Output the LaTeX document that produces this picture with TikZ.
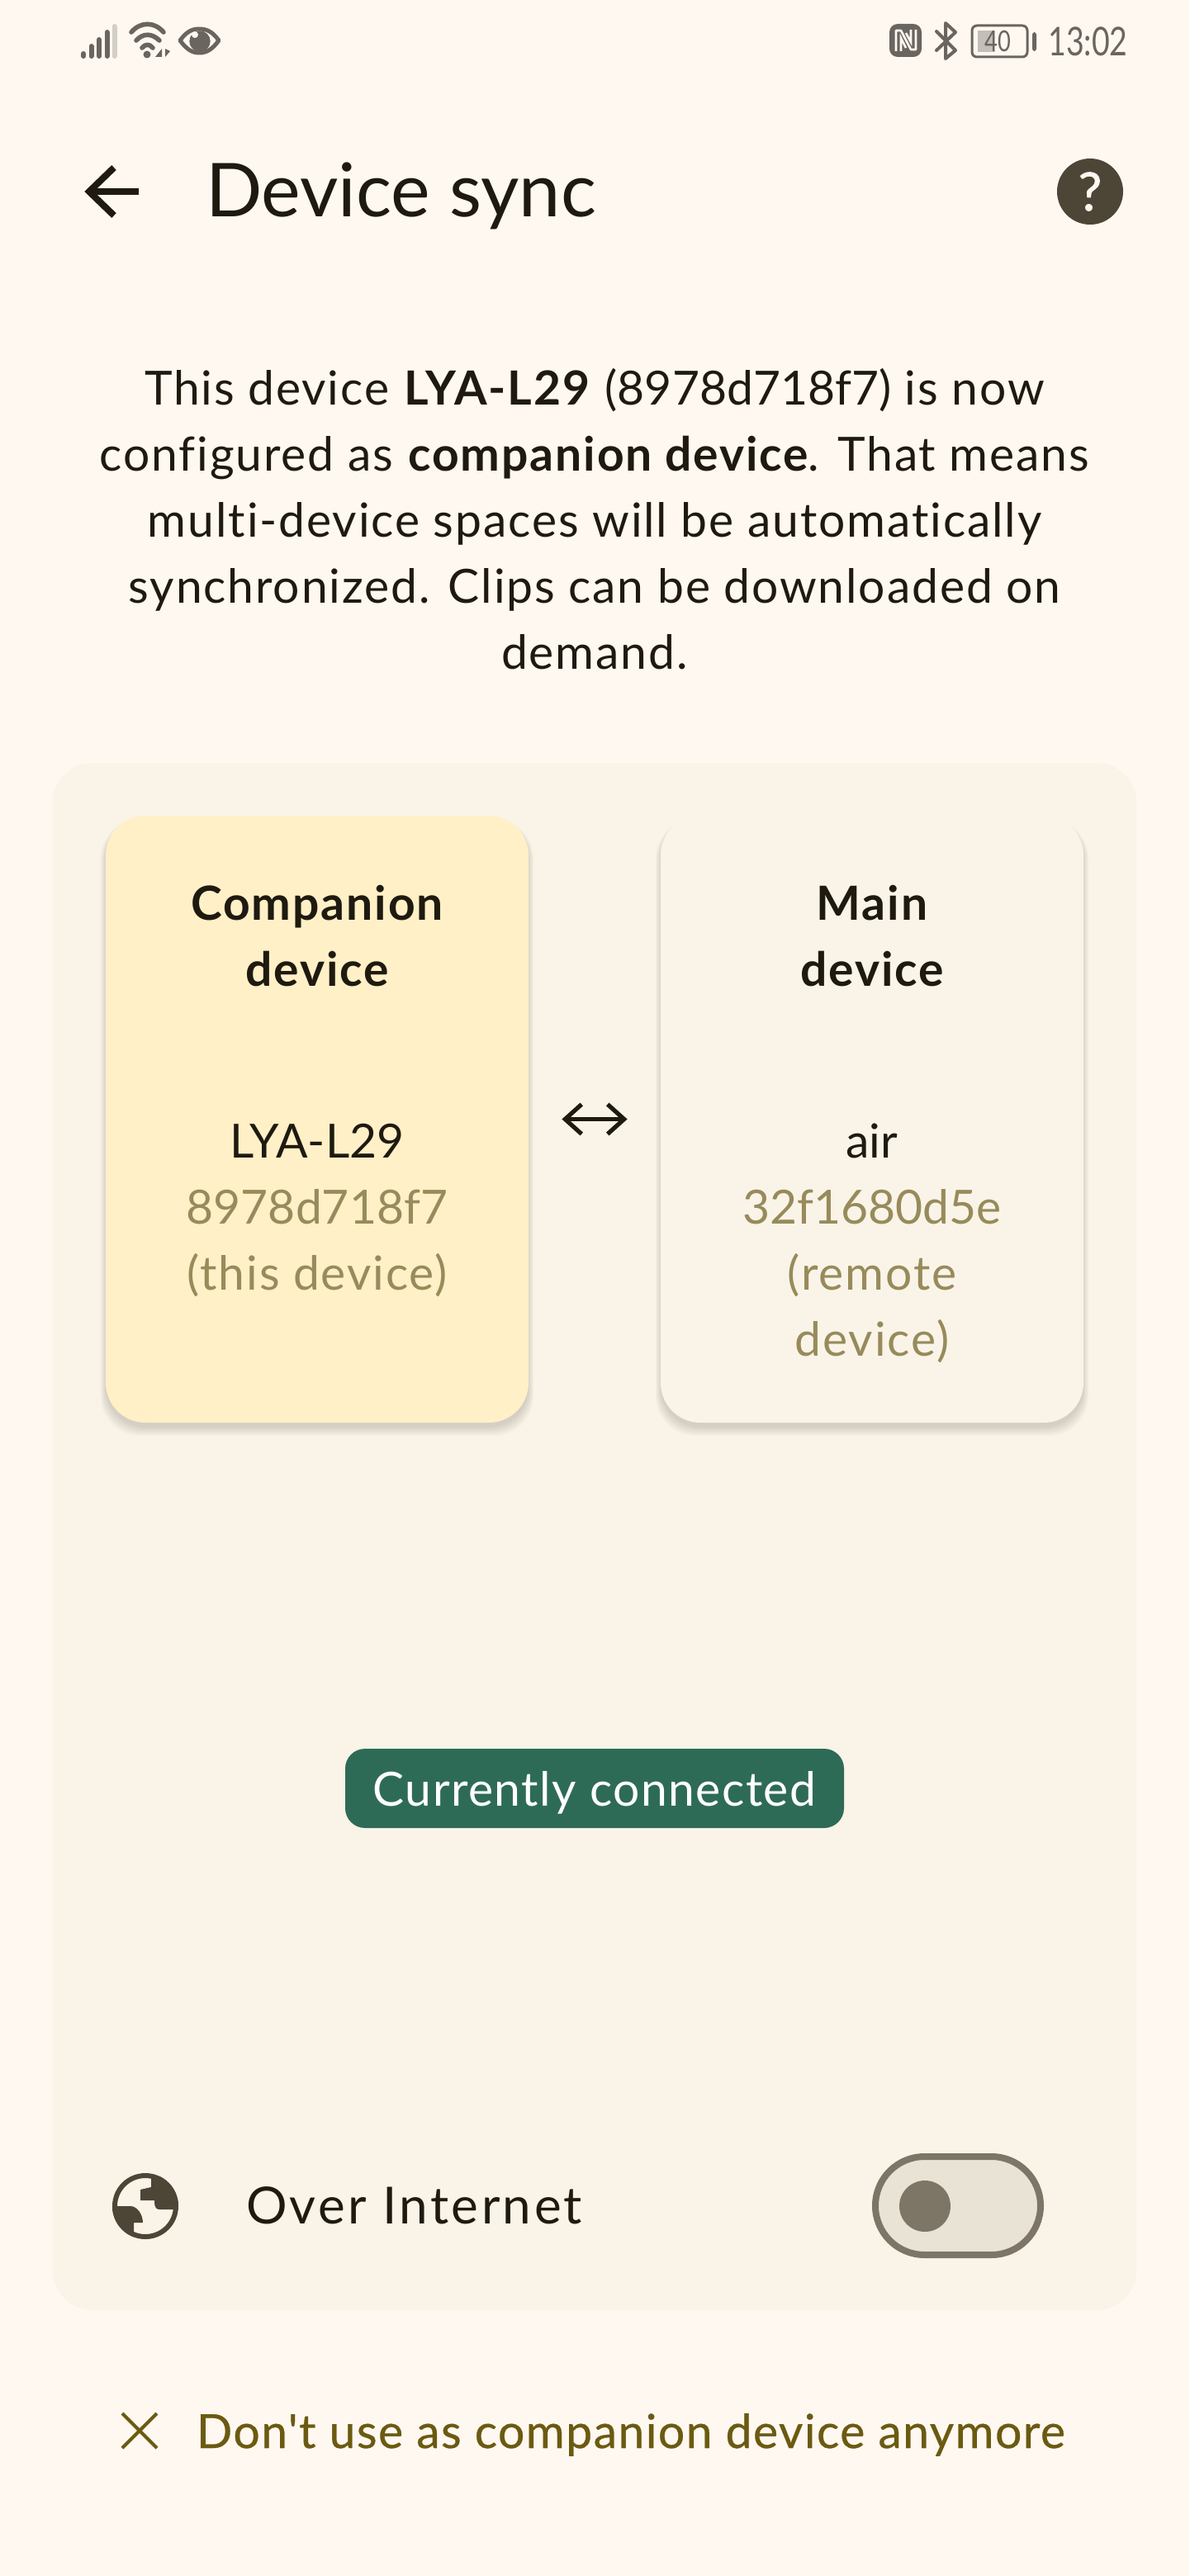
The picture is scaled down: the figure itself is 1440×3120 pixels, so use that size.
\documentclass[tikz,border=0pt]{standalone}
\usepackage{fontspec}
\setmainfont[LetterSpace=3.3,Ligatures=NoCommon]{Lato}
\newfontfamily\nols[Ligatures=NoCommon]{Lato}
\newfontfamily\wides[LetterSpace=5.5,Ligatures=NoCommon]{Lato}
\newfontfamily\pills[LetterSpace=2.6,Ligatures=NoCommon]{Lato}
\newfontfamily\medfont[FakeBold=0.5,LetterSpace=2.6,Ligatures=NoCommon]{Lato}
\newfontfamily\qfont[FakeBold=1.2]{Lato}
\newfontfamily\narrowfont[FakeStretch=0.78]{Lato}
\usetikzlibrary{arrows.meta}
\definecolor{bgc}{HTML}{FFF8F1}
\definecolor{panelc}{HTML}{FAF3E7}
\definecolor{cardy}{HTML}{FFF0C7}
\definecolor{cardw}{HTML}{FAF4E8}
\definecolor{ink}{HTML}{1F1A10}
\definecolor{muted}{HTML}{978B5B}
\definecolor{iconc}{HTML}{4D4536}
\definecolor{statusc}{HTML}{6B6560}
\definecolor{statusl}{HTML}{D2CEC8}
\definecolor{pillc}{HTML}{2E6B56}
\definecolor{togf}{HTML}{E9E3D6}
\definecolor{togs}{HTML}{7D7666}
\definecolor{linkc}{HTML}{6B5A10}
\tikzset{
  x=0.5pt,y=-0.5pt,
  txt/.style={inner sep=0pt,outer sep=0pt,anchor=base,text=ink,font=\fontsize{28.5}{28.5}\selectfont},
  txtl/.style={txt,anchor=base west},
  sub/.style={txt,text=muted},
  subn/.style={txt,text=muted,font=\nols\fontsize{28.5}{28.5}\selectfont},
  txtn/.style={txt,font=\nols\fontsize{28.5}{28.5}\selectfont},
  headb/.style={txt,font=\fontsize{28.5}{28.5}\selectfont\bfseries},
  card/.style={minimum width=256pt,minimum height=367.5pt,inner sep=0pt,rounded corners=24pt},
  statusline/.style={draw=statusc,line cap=round,line join=round,fill=none},
}
\newcommand{\shadowfor}[4]{%
  \foreach \g in {0,2,...,10}{%
    \fill[black,opacity=0.022,rounded corners=24pt] (#1-\g*0.6,#2+6-\g*0.2) rectangle (#3+\g*0.6,#4+6+\g);
  }}
\begin{document}
\begin{tikzpicture}
\useasboundingbox (0,0) rectangle (1440,3120);
\fill[bgc] (0,0) rectangle (1440,3120);

% status bar left
\foreach \bx/\by in {101/63,110.5/54,120/46,129.5/37}{
  \draw[statusline,line width=3pt] (\bx,\by+2) -- (\bx,68);
}
\draw[statusline,draw=statusl,line width=3pt] (138.5,32) -- (138.5,68);
\draw[statusline,line width=2.8pt] (159,39) .. controls (170,26) and (187,26) .. (198,39);
\draw[statusline,line width=2.8pt] (165,49) .. controls (173,40) and (184,40) .. (193,49);
\draw[statusline,line width=2.8pt] (172,58) .. controls (176,53) and (181,53) .. (185,58);
\fill[statusc] (178,66) circle (4.5);
\fill[statusc] (196,69) -- (196,59) -- (188,69) -- cycle;
\fill[statusc] (200,59) -- (200,69) -- (206,62) -- cycle;
\draw[statusline,line width=2.5pt] (218,49) .. controls (226,38) and (233,35) .. (241,35) .. controls (250,35) and (257,38) .. (265,49) .. controls (257,60) and (250,64) .. (241,64) .. controls (233,64) and (226,60) .. (218,49) -- cycle;
\fill[statusc] (242,50) circle (12.7);
\fill[bgc] (236,42) circle (4);

% status bar right
\fill[statusc,rounded corners=5pt] (1077,29) rectangle (1116,69);
\draw[bgc,line width=1.3pt,line join=round] (1085,62) -- (1085,37) -- (1091,37) -- (1103,60) -- (1109,60) -- (1109,36);
\draw[bgc,line width=1.3pt] (1091,62) -- (1091,46) -- (1097,58);
\draw[bgc,line width=1.3pt] (1103,36) -- (1103,51) -- (1097,40);
\draw[statusline,line width=2pt] (1134,38) -- (1157,61) -- (1145,71) -- (1145,28) -- (1157,39) -- (1134,61);
\draw[statusc,line width=1.5pt,rounded corners=3pt] (1177,31) rectangle (1244,69);
\fill[statusl!85!statusc] (1184,37) rectangle (1205,63);
\fill[statusc,rounded corners=1.5pt] (1250,39) rectangle (1255,62);
\node[inner sep=0pt,text=statusc,font=\narrowfont\fontsize{17.5}{17.5}\selectfont] (batt) at (1208,50) {40};
\node[inner sep=0pt,anchor=base east,text=statusc,font=\narrowfont\fontsize{24}{24}\selectfont] (clock) at (1366,68) {13:02};

% app bar
\coordinate (backtip) at (108,232);
\coordinate (backend) at (168,232);
\draw[ink,line width=4pt] (backtip) -- (backend);
\draw[ink,line width=4pt,line join=miter] (138,203) -- (backtip) -- (138,261);
\node[txtl,font=\nols\fontsize{45}{45}\selectfont] (title) at (249,263) {Device sync};
\fill[iconc] (1320,232) circle (40);
\node[inner sep=0pt,text=bgc,font=\qfont\fontsize{32}{32}\selectfont] (help) at (1320,232) {?};

% description
\node[txt] (d1) at (720,490) {This device \textbf{LYA-L29} {\nols(8978d718f7)} is now};
\node[txt] (d2) at (720,570) {configured as \textbf{companion device}. That means};
\node[txt] (d3) at (720,650) {multi-device spaces will be automatically};
\node[txt] (d4) at (720,730) {synchronized. Clips can be downloaded on};
\node[txt] (d5) at (720,810) {demand.};

% panel
\fill[panelc,rounded corners=24pt] (64,924) rectangle (1376,2798);

% cards
\shadowfor{128}{988}{640}{1723}
\shadowfor{800}{988}{1312}{1723}
\node[card,fill=cardy] (companion) at (384,1355.5) {};
\node[card,fill=cardw] (main) at (1056,1355.5) {};
\draw[ink,line width=2.6pt,shorten <=40pt*0.5,shorten >=40pt*0.5,{Straight Barb[length=10pt,width=18pt,line width=2.6pt]}-{Straight Barb[length=10pt,width=18pt,line width=2.6pt]}] (companion) -- (main);

\node[headb] (c1) at (384,1114) {Companion};
\node[headb] (c2) at (384,1194) {device};
\node[txtn] (c3) at (384,1402) {LYA-L29};
\node[subn] (c4) at (384,1482) {8978d718f7};
\node[sub] (c5) at (384,1562) {(this device)};

\node[headb] (m1) at (1056,1114) {Main};
\node[headb] (m2) at (1056,1194) {device};
\node[txtn] (m3) at (1056,1402) {air};
\node[subn] (m4) at (1056,1482) {32f1680d5e};
\node[sub] (m5) at (1056,1562) {(remote};
\node[sub] (m6) at (1056,1642) {device)};

% status pill
\fill[pillc,rounded corners=12pt] (418,2118) rectangle (1022,2214);
\node[txt,text=white,font=\pills\fontsize{28.5}{28.5}\selectfont] (pill) at (720,2187) {Currently connected};

% over internet row
\begin{scope}
\clip (176,2672) circle (40);
\fill[iconc] (183,2636) -- (183,2649) -- (170,2652) -- (170,2665) -- (187,2665) .. controls (187,2676) and (190,2676) .. (195,2676) -- (210,2676) .. controls (216,2676) and (220,2672) .. (220,2660) -- (220,2636) -- cycle;
\fill[iconc] (132,2672) -- (158,2672) .. controls (166,2672) and (173,2682) .. (173,2692) -- (162,2692) -- (162,2716) -- (132,2716) -- cycle;
\end{scope}
\draw[iconc,line width=3pt] (176,2672) circle (37);
\node[txtl,font=\wides\fontsize{31}{31}\selectfont] (inet) at (298,2693) {Over Internet};
\draw[togs,fill=togf,line width=4pt,rounded corners=29.75pt] (1060,2612) rectangle (1260,2731);
\fill[togs] (1120,2672) circle (31);

% bottom action
\draw[linkc,line width=2pt] (148,2923) -- (190,2965) (148,2965) -- (190,2923);
\node[txtl,text=linkc,font=\medfont\fontsize{28.5}{28.5}\selectfont] (drop) at (238,2965) {Don't use as companion device anymore};
\end{tikzpicture}
\end{document}
